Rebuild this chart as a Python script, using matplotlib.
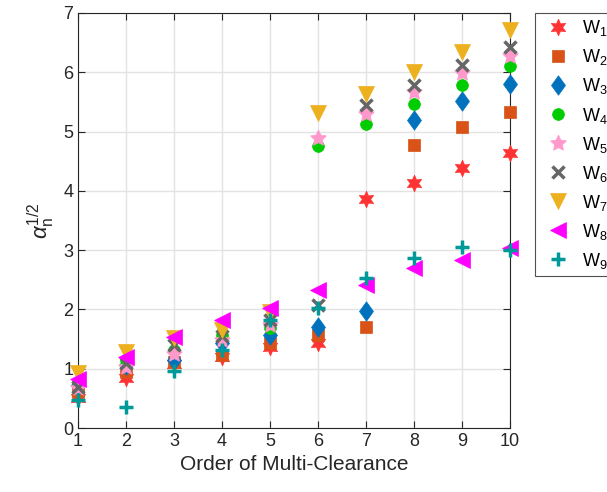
import numpy as np
import matplotlib
matplotlib.use("Agg")
import matplotlib.pyplot as plt

plt.rcParams['font.family'] = ['Liberation Sans', 'DejaVu Sans']
plt.rcParams['mathtext.fontset'] = 'custom'
plt.rcParams['mathtext.rm'] = 'Liberation Sans'
plt.rcParams['mathtext.it'] = 'Liberation Sans:italic'

# order of multi-clearance
order = [1, 2, 3, 4, 5, 6, 7, 8, 9, 10]

# alpha_n^(1/2) for each W
W1 = [0.50, 0.85, 1.08, 1.19, 1.36, 1.43, 3.87, 4.13, 4.38, 4.64]
W2 = [0.60, 0.95, 1.12, 1.24, 1.43, 1.57, 1.70, 4.77, 5.07, 5.33]
W3 = [0.72, 1.06, 1.15, 1.43, 1.57, 1.71, 1.98, 5.19, 5.51, 5.80]
W4 = [0.78, 1.15, 1.32, 1.57, 1.69, 4.76, 5.12, 5.47, 5.79, 6.11]
W5 = [0.68, 1.03, 1.25, 1.48, 1.74, 4.90, 5.29, 5.66, 5.98, 6.28]
W6 = [0.70, 1.10, 1.40, 1.55, 1.82, 2.08, 5.44, 5.78, 6.12, 6.43]
W7 = [0.93, 1.28, 1.52, 1.66, 1.95, 5.32, 5.63, 6.00, 6.35, 6.71]
W8 = [0.83, 1.20, 1.53, 1.82, 2.02, 2.32, 2.42, 2.70, 2.84, 3.04]
W9 = [0.47, 0.36, 0.97, 1.32, 1.82, 2.03, 2.53, 2.86, 3.06, 3.00]

series = [W1, W2, W3, W4, W5, W6, W7, W8, W9]
names = ['W$_{%d}$' % (i + 1) for i in range(9)]

diamond = [(0, 1), (0.72, 0), (0, -1), (-0.72, 0), (0, 1)]
styles = [
    dict(marker=(6, 1, 0), color='#FF3333', ms=12),
    dict(marker='s', color='#D95319', ms=8),
    dict(marker=diamond, color='#0072BD', ms=14),
    dict(marker='o', color='#00CC00', ms=8.5),
    dict(marker=(5, 1, 0), color='#FF99CC', ms=12),
    dict(marker='x', color='#666666', ms=8, mew=2.5),
    dict(marker='v', color='#EDB120', ms=11),
    dict(marker='<', color='#FF00FF', ms=12),
    dict(marker='+', color='#009999', ms=9.5, mew=2.5),
]

fig = plt.figure(figsize=(6.07, 4.92), dpi=100)
ax = fig.add_axes([0.1285, 0.130, 0.7115, 0.8436])

for y, name, st in zip(series, names, styles):
    ax.plot(order, y, linestyle='none', marker=st['marker'], color=st['color'],
            markersize=st['ms'], markeredgewidth=st.get('mew', 0.5),
            label=name, clip_on=False, zorder=3)

ax.set_xlim(1, 10)
ax.set_ylim(0, 7)
ax.set_xticks(range(1, 11))
ax.set_yticks(range(0, 8))
ax.grid(True, color='#E3E3E3', linewidth=1)
ax.set_axisbelow(True)
ax.tick_params(direction='in', top=True, right=True, labelsize=13,
               colors='#262626', length=5)
for sp in ax.spines.values():
    sp.set_color('#262626')

ax.set_xlabel('Order of Multi-Clearance', fontsize=15, color='#262626')
ax.set_ylabel(r'$\alpha_{\mathrm{n}}^{1/2}$', fontsize=16, color='#262626')

leg = fig.legend(loc='upper left', bbox_to_anchor=(535 / 607, 1 - 13 / 492),
                 borderaxespad=0, fontsize=13, frameon=True, fancybox=False,
                 edgecolor='#262626', handletextpad=0.3, labelspacing=0.5,
                 borderpad=0.3, handlelength=2.0)
leg.get_frame().set_linewidth(0.8)

fig.savefig('out.png', dpi=100)
